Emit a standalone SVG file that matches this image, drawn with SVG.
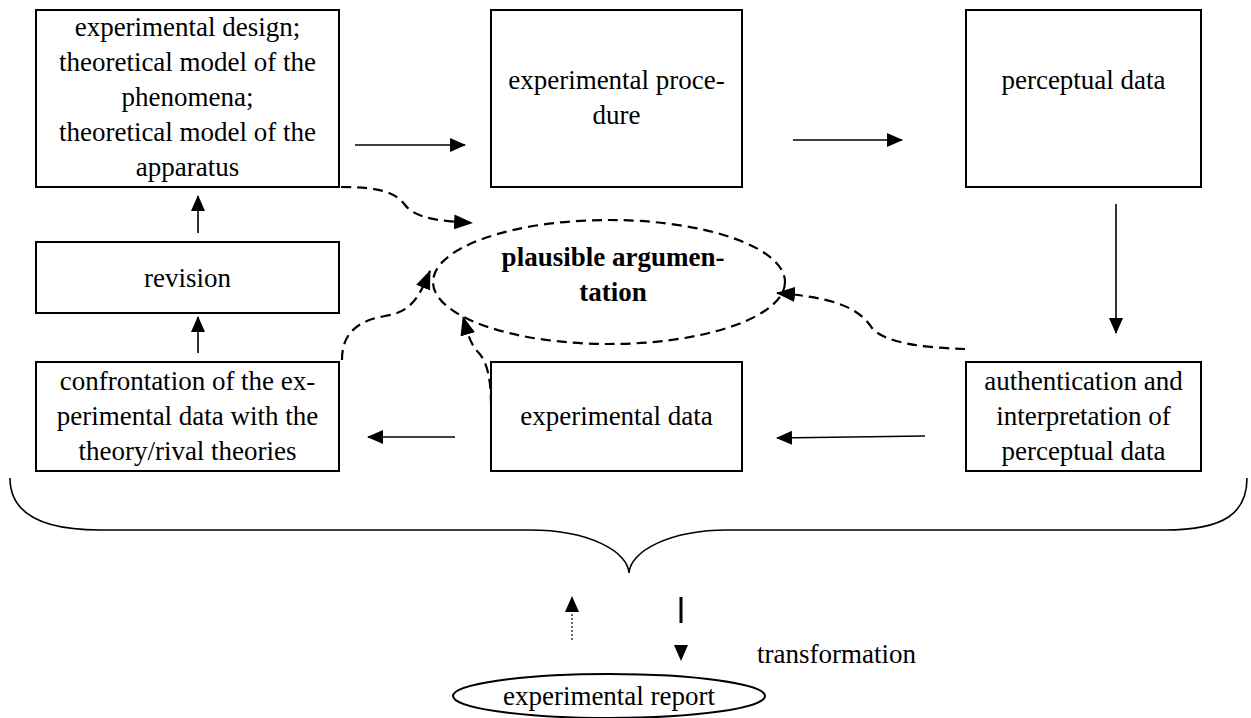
<svg xmlns="http://www.w3.org/2000/svg" width="1251" height="718" viewBox="0 0 1251 718">
  <defs>
    <marker id="head" viewBox="0 0 16 14" refX="15" refY="7" markerWidth="16" markerHeight="14" markerUnits="userSpaceOnUse" orient="auto">
      <path d="M0,0 L16,7 L0,14 Z" fill="#000"/>
    </marker>
    <marker id="headDash" viewBox="0 0 19 15" refX="18" refY="7.5" markerWidth="19" markerHeight="15" markerUnits="userSpaceOnUse" orient="auto">
      <path d="M0,0 L19,7.5 L0,15 Z" fill="#000"/>
    </marker>
  </defs>
  <style>
    .box { fill: #fff; stroke: #000; stroke-width: 2; }
    .lbl { font-size: 27px; fill: #000; text-anchor: middle; }
    .bold { font-weight: bold; }
    .solid { fill: none; stroke: #000; stroke-width: 1.6; marker-end: url(#head); }
    .dash { fill: none; stroke: #000; stroke-width: 2.2; stroke-dasharray: 10 6; marker-end: url(#headDash); }
  </style>
  <rect width="1251" height="718" fill="#fff"/>

  <g font-family="'Liberation Serif', 'Times New Roman', Times, 'DejaVu Serif', serif">
  <g id="design">
    <rect class="box" x="36" y="10" width="303" height="177"/>
    <text class="lbl" x="187.5" y="36">experimental design;</text>
    <text class="lbl" x="187.5" y="71">theoretical model of the</text>
    <text class="lbl" x="187.5" y="106">phenomena;</text>
    <text class="lbl" x="187.5" y="141">theoretical model of the</text>
    <text class="lbl" x="187.5" y="176">apparatus</text>
  </g>
  <g id="procedure">
    <rect class="box" x="491" y="10" width="251" height="177"/>
    <text class="lbl" x="616.5" y="89">experimental proce-</text>
    <text class="lbl" x="616.5" y="124">dure</text>
  </g>
  <g id="perceptual">
    <rect class="box" x="966" y="10" width="235" height="177"/>
    <text class="lbl" x="1083.5" y="89">perceptual data</text>
  </g>
  <g id="revision">
    <rect class="box" x="36" y="242" width="303" height="71"/>
    <text class="lbl" x="187.5" y="287">revision</text>
  </g>
  <g id="confrontation">
    <rect class="box" x="36" y="362" width="303" height="109"/>
    <text class="lbl" x="187.5" y="390">confrontation of the ex-</text>
    <text class="lbl" x="187.5" y="425">perimental data with the</text>
    <text class="lbl" x="187.5" y="460">theory/rival theories</text>
  </g>
  <g id="expdata">
    <rect class="box" x="491" y="362" width="251" height="109"/>
    <text class="lbl" x="616.5" y="425">experimental data</text>
  </g>
  <g id="authentication">
    <rect class="box" x="966" y="362" width="235" height="109"/>
    <text class="lbl" x="1083.5" y="390">authentication and</text>
    <text class="lbl" x="1083.5" y="425">interpretation of</text>
    <text class="lbl" x="1083.5" y="460">perceptual data</text>
  </g>
  <g id="argumentation">
    <ellipse cx="609" cy="282" rx="176" ry="62" fill="none" stroke="#000" stroke-width="2.2" stroke-dasharray="10 6"/>
    <text class="lbl bold" x="613" y="266">plausible argumen-</text>
    <text class="lbl bold" x="613" y="301">tation</text>
  </g>
  <g id="report">
    <ellipse cx="609" cy="696" rx="156" ry="22" fill="none" stroke="#000" stroke-width="2"/>
    <text class="lbl" x="609" y="705">experimental report</text>
  </g>
  <text class="lbl" x="757" y="663" style="text-anchor:start">transformation</text>
  </g>

  <g id="connectors">
    <line class="solid" x1="355" y1="145" x2="465" y2="145"/>
    <line class="solid" x1="793" y1="140" x2="902" y2="140"/>
    <line class="solid" x1="1116" y1="204" x2="1116" y2="333"/>
    <line class="solid" x1="925" y1="436" x2="777" y2="438"/>
    <line class="solid" x1="455" y1="437" x2="368" y2="437"/>
    <line class="solid" x1="198" y1="233" x2="198" y2="196"/>
    <line class="solid" x1="198" y1="353" x2="198" y2="317"/>

    <path class="dash" d="M341,187 C380,187 395,192 405,205 C416,219 440,221 472,223"/>
    <path class="dash" d="M342,360 C342,340 350,322 385,316 C410,312 418,300 430,271"/>
    <path class="dash" d="M491,405 C491,382 488,362 478,352 C470,343 468,335 463,317"/>
    <path class="dash" d="M965,349 C930,348 885,344 872,328 C860,310 840,298 777,293"/>

    <!-- brace grouping the working steps -->
    <path d="M10,478 C10,512 40,530 100,530 L530,530 C590,530 628,552 629,573 C630,552 668,530 728,530 L1165,530 C1226,530 1247,512 1247,478" fill="none" stroke="#000" stroke-width="1.6"/>

    <line x1="572" y1="640" x2="572" y2="597" stroke="#000" stroke-width="1.2" stroke-dasharray="2 2" marker-end="url(#head)"/>
    <line x1="681" y1="597" x2="681" y2="660" stroke="#000" stroke-width="3" stroke-dasharray="26 100" marker-end="url(#head)"/>
  </g>
</svg>
